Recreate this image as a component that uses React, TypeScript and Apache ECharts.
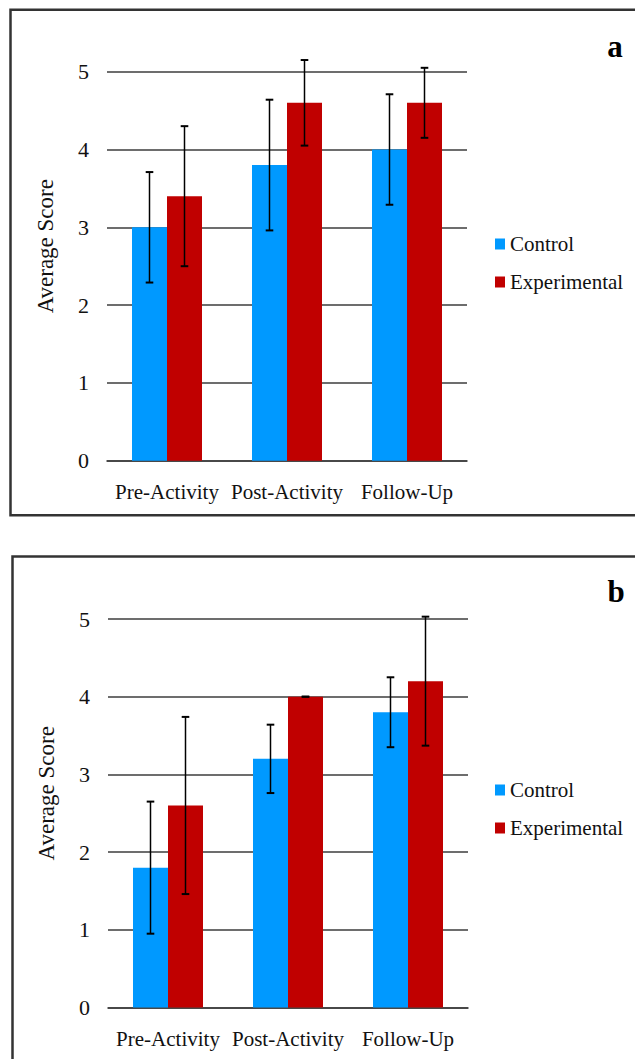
import React, { useEffect, useRef } from 'react';
import * as echarts from 'echarts';

const categories = ['Pre-Activity', 'Post-Activity', 'Follow-Up'];
const seriesNames = ['Control', 'Experimental'];
const panelLabels = ['a', 'b'];
const yAxisTitle = 'Average Score';

// Panel a
const controlA = [3.0, 3.8, 4.0];
const controlAErr = [0.71, 0.84, 0.71];
const expA = [3.4, 4.6, 4.6];
const expAErr = [0.9, 0.55, 0.45];

// Panel b
const controlB = [1.8, 3.2, 3.8];
const controlBErr = [0.85, 0.44, 0.45];
const expB = [2.6, 4.0, 4.2];
const expBErr = [1.14, 0, 0.83];

const FONT = 'Liberation Serif';
const BLUE = '#0099FF';
const RED = '#C00000';
const GRID_LINE = '#3c3c3c';

const panels = [
  { control: controlA, controlErr: controlAErr, exp: expA, expErr: expAErr, grid: { left: 107, top: 71.7, width: 360, height: 389 }, legendTop: 233.5, frame: { x: 10.5, y: 9.7, h: 505.5 }, letter: { x: 615, y: 46 } },
  { control: controlB, controlErr: controlBErr, exp: expB, expErr: expBErr, grid: { left: 108, top: 619, width: 360, height: 388.5 }, legendTop: 779.5, frame: { x: 12.5, y: 556.5, h: 600 }, letter: { x: 616, y: 591 } },
];

const BAR_W = 35;

function errorSeries(idx: number, values: number[], errs: number[], offset: number) {
  return {
    type: 'custom',
    name: 'err',
    xAxisIndex: idx,
    yAxisIndex: idx,
    z: 10,
    silent: true,
    encode: { x: 0, y: [1, 2] },
    data: values.map((v, i) => [i, v - errs[i], v + errs[i]]),
    renderItem: (params: any, api: any) => {
      const cat = api.value(0);
      const lo = api.coord([cat, api.value(1)]);
      const hi = api.coord([cat, api.value(2)]);
      const x = lo[0] + offset;
      const cap = 3.8;
      const style = { stroke: '#000', lineWidth: 1.5 };
      return {
        type: 'group',
        children: [
          { type: 'line', shape: { x1: x, y1: hi[1], x2: x, y2: lo[1] }, style },
          { type: 'line', shape: { x1: x - cap, y1: hi[1], x2: x + cap, y2: hi[1] }, style: { stroke: '#000', lineWidth: 2 } },
          { type: 'line', shape: { x1: x - cap, y1: lo[1], x2: x + cap, y2: lo[1] }, style: { stroke: '#000', lineWidth: 2 } },
        ],
      };
    },
  };
}

export default function App() {
  const ref = useRef<HTMLDivElement>(null);
  useEffect(() => {
    if (!ref.current) return;
    const chart = echarts.init(ref.current, null, { renderer: 'svg' });
    const option: any = {
      animation: false,
      backgroundColor: '#fff',
      textStyle: { fontFamily: FONT },
      grid: panels.map((p) => ({ ...p.grid, containLabel: false })),
      xAxis: panels.map((p, i) => ({
        type: 'category',
        gridIndex: i,
        data: categories,
        axisTick: { show: false },
        axisLine: { show: true, lineStyle: { color: GRID_LINE, width: 1.6 } },
        axisLabel: { color: '#111', fontSize: 21, fontFamily: FONT, margin: 21, interval: 0 },
      })),
      yAxis: panels.map((p, i) => ({
        type: 'value',
        gridIndex: i,
        min: 0,
        max: 5,
        interval: 1,
        name: yAxisTitle,
        nameLocation: 'middle',
        nameGap: 50,
        nameTextStyle: { color: '#111', fontSize: 23, fontFamily: FONT, padding: [0, 0, 0, 40] },
        axisLine: { show: false },
        axisTick: { show: false },
        axisLabel: { color: '#111', fontSize: 22, fontFamily: FONT, margin: 18 },
        splitLine: { show: true, lineStyle: { color: GRID_LINE, width: 1.6 } },
      })),
      legend: panels.map((p) => ({
        data: seriesNames,
        orient: 'vertical',
        left: 495,
        top: p.legendTop,
        padding: 0,
        itemWidth: 10,
        itemHeight: 11,
        itemGap: 17,
        icon: 'rect',
        selectedMode: false,
        textStyle: { color: '#111', fontSize: 21, fontFamily: FONT, lineHeight: 21 },
      })),
      series: panels.flatMap((p, i) => [
        {
          type: 'bar',
          name: seriesNames[0],
          xAxisIndex: i,
          yAxisIndex: i,
          data: p.control,
          barWidth: BAR_W,
          barGap: '0%',
          itemStyle: { color: BLUE },
        },
        {
          type: 'bar',
          name: seriesNames[1],
          xAxisIndex: i,
          yAxisIndex: i,
          data: p.exp,
          barWidth: BAR_W,
          barGap: '0%',
          itemStyle: { color: RED },
        },
        errorSeries(i, p.control, p.controlErr, -BAR_W / 2),
        errorSeries(i, p.exp, p.expErr, BAR_W / 2),
      ]),
      graphic: panels.flatMap((p, i) => [
        {
          type: 'rect',
          shape: { x: p.frame.x, y: p.frame.y, width: 640, height: p.frame.h },
          style: { fill: 'none', stroke: '#333', lineWidth: 2.5 },
          silent: true,
          z: -1,
        },
        {
          type: 'text',
          x: p.letter.x,
          y: p.letter.y,
          style: { text: panelLabels[i], fontSize: 31, fontWeight: 'bold', fontFamily: FONT, fill: '#000', align: 'center', verticalAlign: 'middle' },
        },
      ]),
    };
    chart.setOption(option);
    return () => chart.dispose();
  }, []);
  return <div ref={ref} style={{ position: 'absolute', left: 0, top: 0, width: 635, height: 1059 }} />;
}
